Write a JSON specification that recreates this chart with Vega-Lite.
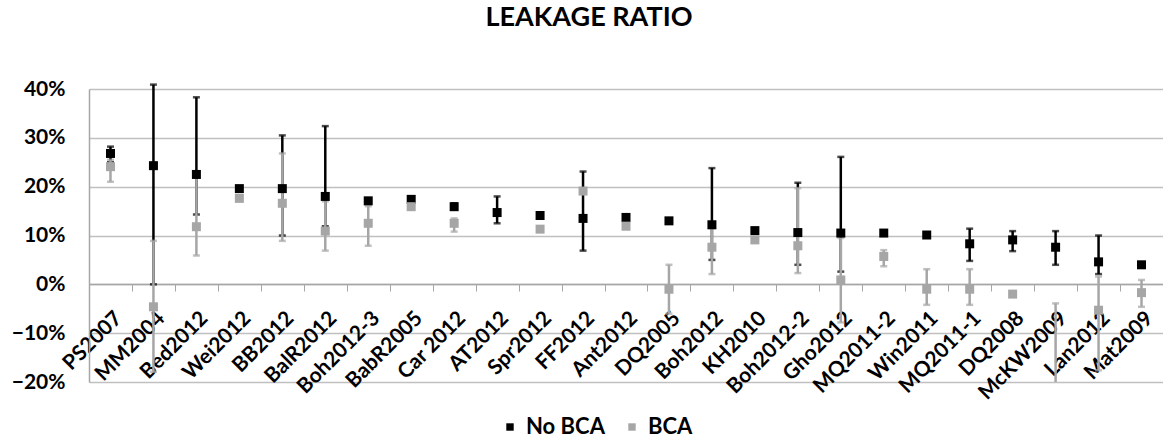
{
  "$schema": "https://vega.github.io/schema/vega-lite/v6.json",
  "autosize": "none",
  "width": 1074,
  "height": 293,
  "padding": {"left": 89, "top": 89, "right": 0, "bottom": 61},
  "background": "white",
  "title": {"text": "LEAKAGE RATIO", "font": "Lato", "fontSize": 27, "fontWeight": "bold", "color": "#000000", "anchor": "middle", "frame": "group", "dx": -37, "offset": 46},
  "config": {"view": {"stroke": null}, "font": "Lato"},
  "data": {"values": [
    {"study": "PS2007", "series": "No BCA", "value": 0.268, "lo": 0.25, "hi": 0.282},
    {"study": "MM2004", "series": "No BCA", "value": 0.243, "lo": 0.0, "hi": 0.409},
    {"study": "Bed2012", "series": "No BCA", "value": 0.225, "lo": 0.143, "hi": 0.383},
    {"study": "Wei2012", "series": "No BCA", "value": 0.196, "lo": null, "hi": null},
    {"study": "BB2012", "series": "No BCA", "value": 0.196, "lo": 0.10, "hi": 0.305},
    {"study": "BalR2012", "series": "No BCA", "value": 0.18, "lo": 0.119, "hi": 0.324},
    {"study": "Boh2012-3", "series": "No BCA", "value": 0.171, "lo": null, "hi": null},
    {"study": "BabR2005", "series": "No BCA", "value": 0.174, "lo": null, "hi": null},
    {"study": "Car 2012", "series": "No BCA", "value": 0.159, "lo": 0.153, "hi": 0.166},
    {"study": "AT2012", "series": "No BCA", "value": 0.147, "lo": 0.125, "hi": 0.18},
    {"study": "Spr2012", "series": "No BCA", "value": 0.141, "lo": null, "hi": null},
    {"study": "FF2012", "series": "No BCA", "value": 0.135, "lo": 0.069, "hi": 0.231},
    {"study": "Ant2012", "series": "No BCA", "value": 0.137, "lo": null, "hi": null},
    {"study": "DQ2005", "series": "No BCA", "value": 0.13, "lo": null, "hi": null},
    {"study": "Boh2012", "series": "No BCA", "value": 0.122, "lo": 0.05, "hi": 0.238},
    {"study": "KH2010", "series": "No BCA", "value": 0.11, "lo": null, "hi": null},
    {"study": "Boh2012-2", "series": "No BCA", "value": 0.106, "lo": 0.04, "hi": 0.208},
    {"study": "Gho2012", "series": "No BCA", "value": 0.105, "lo": 0.026, "hi": 0.261},
    {"study": "MQ2011-2", "series": "No BCA", "value": 0.105, "lo": null, "hi": null},
    {"study": "Win2011", "series": "No BCA", "value": 0.101, "lo": null, "hi": null},
    {"study": "MQ2011-1", "series": "No BCA", "value": 0.083, "lo": 0.048, "hi": 0.114},
    {"study": "DQ2008", "series": "No BCA", "value": 0.091, "lo": 0.068, "hi": 0.109},
    {"study": "McKW2009", "series": "No BCA", "value": 0.076, "lo": 0.04, "hi": 0.109},
    {"study": "Lan2012", "series": "No BCA", "value": 0.046, "lo": 0.021, "hi": 0.10},
    {"study": "Mat2009", "series": "No BCA", "value": 0.04, "lo": null, "hi": null},
    {"study": "PS2007", "series": "BCA", "value": 0.241, "lo": 0.21, "hi": 0.255},
    {"study": "MM2004", "series": "BCA", "value": -0.046, "lo": -0.179, "hi": 0.089},
    {"study": "Bed2012", "series": "BCA", "value": 0.118, "lo": 0.059, "hi": 0.22},
    {"study": "Wei2012", "series": "BCA", "value": 0.176, "lo": null, "hi": null},
    {"study": "BB2012", "series": "BCA", "value": 0.166, "lo": 0.089, "hi": 0.268},
    {"study": "BalR2012", "series": "BCA", "value": 0.109, "lo": 0.069, "hi": 0.17},
    {"study": "Boh2012-3", "series": "BCA", "value": 0.125, "lo": 0.079, "hi": 0.16},
    {"study": "BabR2005", "series": "BCA", "value": 0.159, "lo": null, "hi": null},
    {"study": "Car 2012", "series": "BCA", "value": 0.125, "lo": 0.108, "hi": 0.135},
    {"study": "Spr2012", "series": "BCA", "value": 0.113, "lo": null, "hi": null},
    {"study": "FF2012", "series": "BCA", "value": 0.191, "lo": null, "hi": null},
    {"study": "Ant2012", "series": "BCA", "value": 0.119, "lo": null, "hi": null},
    {"study": "DQ2005", "series": "BCA", "value": -0.01, "lo": -0.06, "hi": 0.04},
    {"study": "Boh2012", "series": "BCA", "value": 0.076, "lo": 0.021, "hi": 0.115},
    {"study": "KH2010", "series": "BCA", "value": 0.091, "lo": null, "hi": null},
    {"study": "Boh2012-2", "series": "BCA", "value": 0.079, "lo": 0.023, "hi": 0.197},
    {"study": "Gho2012", "series": "BCA", "value": 0.009, "lo": -0.078, "hi": 0.095},
    {"study": "MQ2011-2", "series": "BCA", "value": 0.057, "lo": 0.037, "hi": 0.07},
    {"study": "Win2011", "series": "BCA", "value": -0.01, "lo": -0.042, "hi": 0.031},
    {"study": "MQ2011-1", "series": "BCA", "value": -0.01, "lo": -0.042, "hi": 0.031},
    {"study": "DQ2008", "series": "BCA", "value": -0.02, "lo": null, "hi": null},
    {"study": "McKW2009", "series": "BCA", "value": -0.25, "lo": -0.30, "hi": -0.039},
    {"study": "Lan2012", "series": "BCA", "value": -0.053, "lo": -0.176, "hi": 0.016},
    {"study": "Mat2009", "series": "BCA", "value": -0.017, "lo": -0.046, "hi": 0.009}
  ]},
  "encoding": {
    "x": {"field": "study", "type": "nominal",
      "sort": ["PS2007", "MM2004", "Bed2012", "Wei2012", "BB2012", "BalR2012", "Boh2012-3", "BabR2005", "Car 2012", "AT2012", "Spr2012", "FF2012", "Ant2012", "DQ2005", "Boh2012", "KH2010", "Boh2012-2", "Gho2012", "MQ2011-2", "Win2011", "MQ2011-1", "DQ2008", "McKW2009", "Lan2012", "Mat2009"],
      "scale": {"paddingInner": 0, "paddingOuter": 0},
      "axis": {"title": null, "orient": "bottom", "offset": -98, "labelAngle": -45, "labelFont": "Lato", "labelFontSize": 21, "labelFontWeight": "bold", "labelColor": "#000000", "labelPadding": 16, "ticks": true, "tickBand": "extent", "tickSize": 7, "tickColor": "#a6a6a6", "domainColor": "#a6a6a6", "domainWidth": 1.5, "grid": false, "zindex": 0}},
    "color": {"field": "series", "type": "nominal",
      "scale": {"domain": ["No BCA", "BCA"], "range": ["#000000", "#a6a6a6"]},
      "legend": {"title": null, "orient": "none", "legendX": 410, "legendY": 327, "direction": "horizontal", "symbolType": "square", "symbolSize": 55, "symbolStrokeWidth": 0, "symbolOpacity": 1, "labelFont": "Lato", "labelFontSize": 22, "labelFontWeight": "bold", "labelColor": "#000000", "columnPadding": 16, "labelOffset": 5}}
  },
  "layer": [
    {
      "transform": [{"filter": "datum.series === 'No BCA' && datum.lo !== null"}],
      "mark": {"type": "rule", "strokeWidth": 2.5},
      "encoding": {"y": {"field": "lo", "type": "quantitative"}, "y2": {"field": "hi"}}
    },
    {
      "transform": [{"filter": "datum.series === 'No BCA' && datum.lo !== null"}],
      "mark": {"type": "tick", "size": 7, "thickness": 2.5},
      "encoding": {"y": {"field": "lo", "type": "quantitative"}}
    },
    {
      "transform": [{"filter": "datum.series === 'No BCA' && datum.lo !== null"}],
      "mark": {"type": "tick", "size": 7, "thickness": 2.5},
      "encoding": {"y": {"field": "hi", "type": "quantitative"}}
    },
    {
      "transform": [{"filter": "datum.series === 'BCA' && datum.lo !== null"}],
      "mark": {"type": "rule", "strokeWidth": 2.5, "clip": true},
      "encoding": {"y": {"field": "lo", "type": "quantitative"}, "y2": {"field": "hi"}}
    },
    {
      "transform": [{"filter": "datum.series === 'BCA' && datum.lo !== null"}],
      "mark": {"type": "tick", "size": 7, "thickness": 2.5, "clip": true},
      "encoding": {"y": {"field": "lo", "type": "quantitative"}}
    },
    {
      "transform": [{"filter": "datum.series === 'BCA' && datum.lo !== null"}],
      "mark": {"type": "tick", "size": 7, "thickness": 2.5, "clip": true},
      "encoding": {"y": {"field": "hi", "type": "quantitative"}}
    },
    {
      "transform": [{"filter": "datum.series === 'No BCA'"}],
      "mark": {"type": "point", "shape": "square", "filled": true, "size": 81, "opacity": 1},
      "encoding": {"y": {"field": "value", "type": "quantitative",
        "scale": {"domain": [-0.2, 0.4], "nice": false, "zero": false},
        "axis": {"title": null, "format": ".0%", "values": [-0.2, -0.1, 0, 0.1, 0.2, 0.3, 0.4], "labelFont": "Lato", "labelFontSize": 21, "labelFontWeight": "bold", "labelColor": "#000000", "labelPadding": 24, "ticks": false, "domainColor": "#a6a6a6", "domainWidth": 1.5, "gridColor": "#c0c0c0", "gridWidth": 1.5, "zindex": 0}}}
    },
    {
      "transform": [{"filter": "datum.series === 'BCA'"}],
      "mark": {"type": "point", "shape": "square", "filled": true, "size": 81, "opacity": 1, "clip": true},
      "encoding": {"y": {"field": "value", "type": "quantitative"}}
    }
  ]
}
